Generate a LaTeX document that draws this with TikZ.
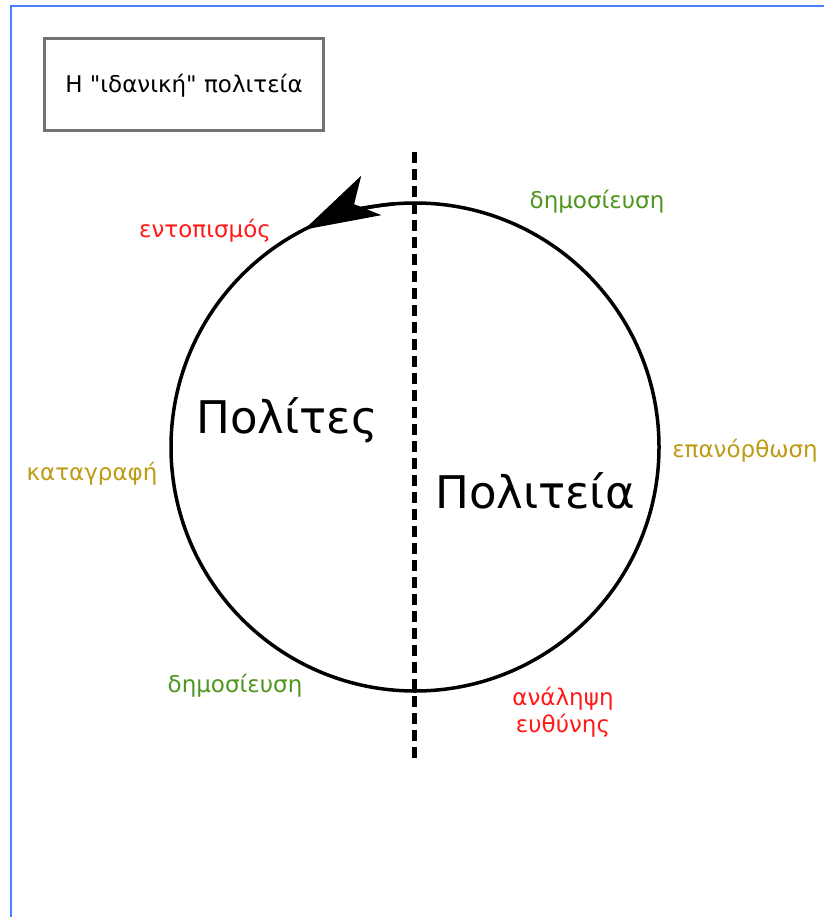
\documentclass[tikz,border=0pt]{standalone}
\usepackage{fontspec}
\newfontfamily\greekfont{DejaVu Sans}
\usetikzlibrary{arrows.meta}

\definecolor{edgeblue}{RGB}{70,130,255}
\definecolor{boxgray}{RGB}{115,115,115}
\definecolor{stepgreen}{RGB}{78,150,30}
\definecolor{stepgold}{RGB}{190,155,20}
\definecolor{stepred}{RGB}{255,25,25}

\begin{document}
\begin{tikzpicture}[
		x=1pt, y=1pt,
		every node/.style={
			inner sep=0pt, outer sep=0pt,
			font=\greekfont\fontsize{23}{27}\selectfont
		},
		frame/.style={draw=edgeblue, line width=1.5pt},
		title/.style={draw=boxgray, line width=3pt, align=center},
		side/.style={font=\greekfont\fontsize{45}{50}\selectfont, anchor=base},
		found/.style={text=stepred, anchor=base, align=center},
		shown/.style={text=stepgreen, anchor=base},
		fixed/.style={text=stepgold, anchor=base},
		border/.style={dash pattern=on 11pt off 6pt, line width=5pt}
		]
		
		\useasboundingbox (0,0) rectangle (824,-917);
		\draw[frame] (11,-917) -- (11,-6) -- (824,-6);
		
		% title box
		\draw[title] (44,-39) rectangle (323,-131);
		\node[anchor=base] (ideal) at (184,-93) {Η "ιδανική" πολιτεία};
		
		% the cycle
		\coordinate (centre) at (415,-447);
		\draw[line width=3.5pt] (centre) circle (244);
		\draw[line width=3.5pt, -{Stealth[length=75pt, width=44pt, inset=19pt]}]
			(centre) ++(95:244) arc[start angle=95, end angle=117, radius=244];
		
		% the line between both sides
		\coordinate (top) at (414,-152);
		\coordinate (bottom) at (414,-760);
		\draw[border] (top) -- (bottom);
		
		\node[side] (citizens) at (287,-433) {Πολίτες};
		\node[side] (state) at (535,-508) {Πολιτεία};
		
		\node[found] (locate) at (205,-237) {εντοπισμός};
		\node[shown] (publishtop) at (597,-208) {δημοσίευση};
		\node[fixed] (repair) at (745,-457) {επανόρθωση};
		\node[fixed] (record) at (92,-480) {καταγραφή};
		\node[shown] (publishbottom) at (235,-692) {δημοσίευση};
		\node[found] (duty) at (563,-732) {ανάληψη\\ευθύνης};
	\end{tikzpicture}
\end{document}
